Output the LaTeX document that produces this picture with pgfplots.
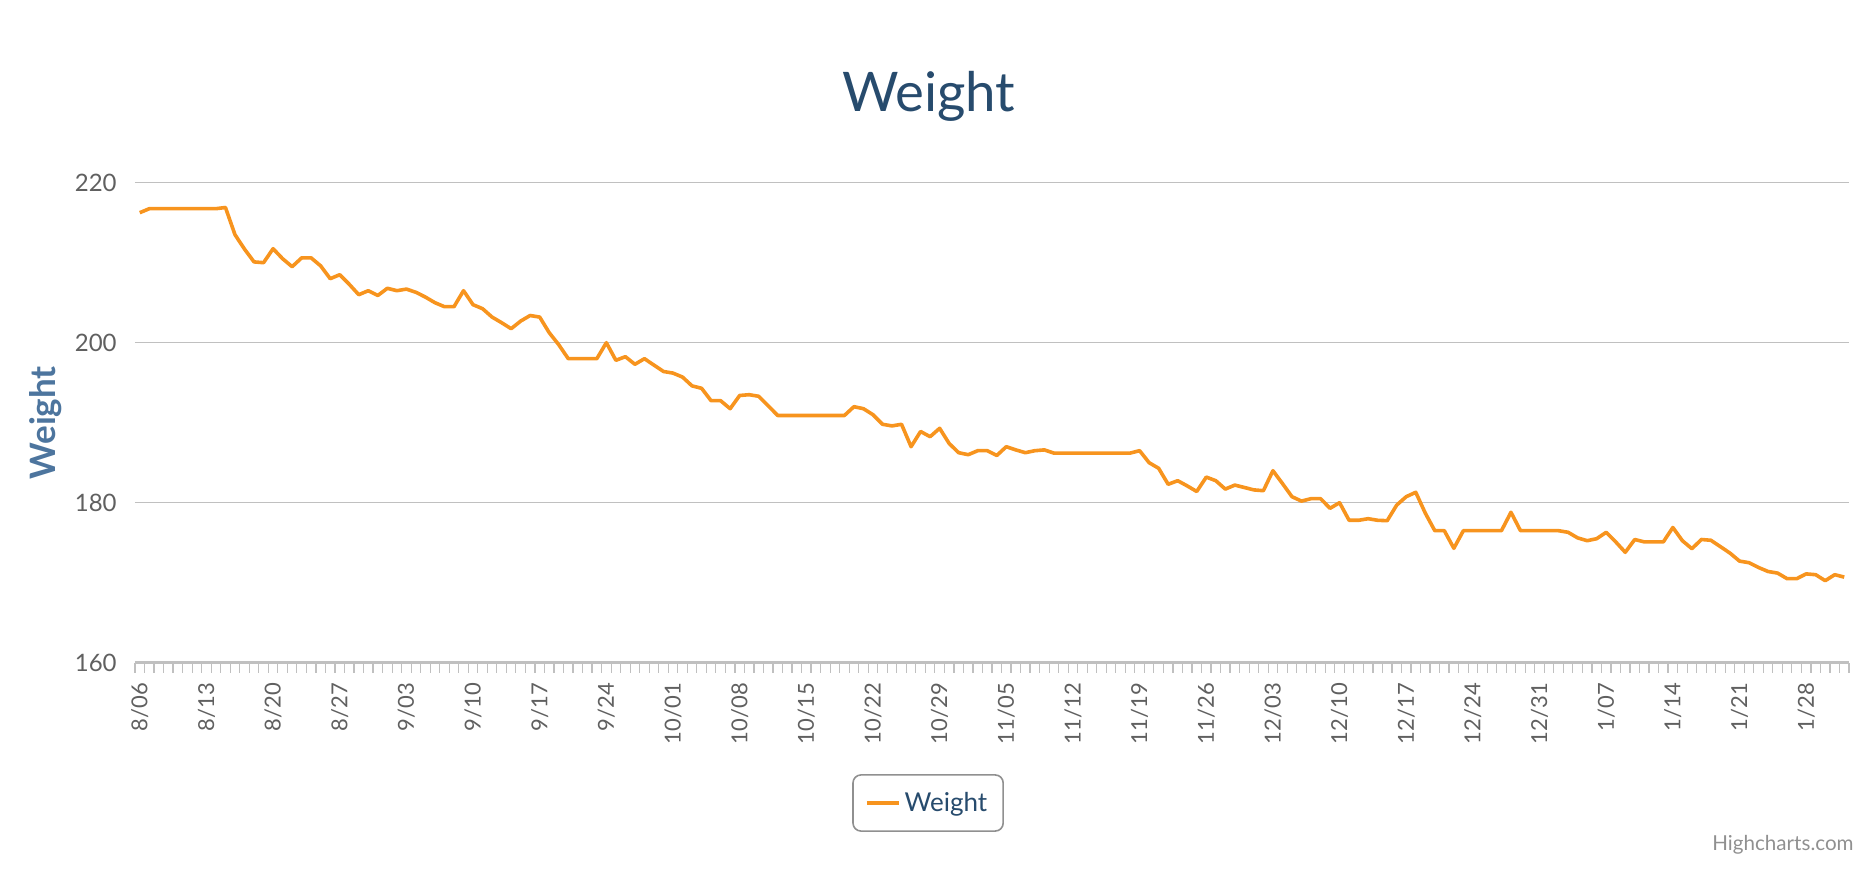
\documentclass[border=0pt]{standalone}
\usepackage{fontspec}
\setmainfont{Lato}
\usepackage{pgfplots}
\pgfplotsset{compat=1.18}
\usepackage{pgfplotstable}

\definecolor{titleblue}{HTML}{274B6D}
\definecolor{labelblue}{HTML}{4D759E}
\definecolor{ticktext}{HTML}{606060}
\definecolor{gridgray}{HTML}{C0C0C0}
\definecolor{legendgray}{HTML}{909090}
\definecolor{lineorange}{HTML}{F7941E}

% day index (0 = 8/06), weight
\pgfplotstableread{
day weight
0 216.25
1 216.75
2 216.75
3 216.75
4 216.75
5 216.75
6 216.75
7 216.75
8 216.75
9 216.9
10 213.5
11 211.7
12 210.1
13 210.0
14 211.75
15 210.5
16 209.5
17 210.6
18 210.6
19 209.6
20 208.0
21 208.5
22 207.3
23 206.0
24 206.5
25 205.9
26 206.8
27 206.5
28 206.7
29 206.3
30 205.7
31 205.0
32 204.5
33 204.5
34 206.5
35 204.75
36 204.25
37 203.2
38 202.5
39 201.75
40 202.7
41 203.4
42 203.2
43 201.25
44 199.75
45 198.0
46 198.0
47 198.0
48 198.0
49 200.0
50 197.8
51 198.25
52 197.3
53 198.0
54 197.2
55 196.4
56 196.2
57 195.7
58 194.6
59 194.3
60 192.75
61 192.75
62 191.75
63 193.4
64 193.5
65 193.3
66 192.1
67 190.9
68 190.9
69 190.9
70 190.9
71 190.9
72 190.9
73 190.9
74 190.9
75 192.0
76 191.75
77 191.0
78 189.8
79 189.6
80 189.8
81 187.0
82 188.9
83 188.25
84 189.3
85 187.4
86 186.25
87 186.0
88 186.5
89 186.5
90 185.9
91 187.0
92 186.6
93 186.25
94 186.5
95 186.6
96 186.2
97 186.2
98 186.2
99 186.2
100 186.2
101 186.2
102 186.2
103 186.2
104 186.2
105 186.5
106 185.0
107 184.3
108 182.3
109 182.75
110 182.1
111 181.4
112 183.2
113 182.75
114 181.7
115 182.2
116 181.9
117 181.6
118 181.5
119 184.0
120 182.4
121 180.75
122 180.2
123 180.5
124 180.5
125 179.3
126 180.0
127 177.8
128 177.8
129 178.0
130 177.8
131 177.75
132 179.7
133 180.75
134 181.3
135 178.7
136 176.5
137 176.5
138 174.3
139 176.5
140 176.5
141 176.5
142 176.5
143 176.5
144 178.8
145 176.5
146 176.5
147 176.5
148 176.5
149 176.5
150 176.3
151 175.6
152 175.25
153 175.5
154 176.3
155 175.1
156 173.8
157 175.4
158 175.1
159 175.1
160 175.1
161 176.9
162 175.25
163 174.25
164 175.4
165 175.3
166 174.5
167 173.7
168 172.7
169 172.5
170 171.9
171 171.4
172 171.2
173 170.5
174 170.5
175 171.1
176 171.0
177 170.25
178 171.0
179 170.7
}\weighttable

\begin{document}
\begin{tikzpicture}
  \path[use as bounding box] (-67.5pt,-103.65pt) rectangle (869pt,331.35pt);
  \begin{axis}[
      scale only axis,
      width=857pt,
      height=240pt,
      xmin=-0.5, xmax=179.5,
      ymin=160, ymax=220,
      axis x line*=bottom,
      axis y line*=left,
      x axis line style={-, draw=gridgray, line width=1.2pt},
      y axis line style={draw=none},
      ytick={160,180,200,220},
      ymajorgrids,
      major grid style={draw=gridgray, line width=0.65pt},
      xtick={0,7,...,175},
      xticklabels={8/06,8/13,8/20,8/27,9/03,9/10,9/17,9/24,10/01,10/08,10/15,10/22,10/29,11/05,11/12,11/19,11/26,12/03,12/10,12/17,12/24,12/31,1/07,1/14,1/21,1/28},
      minor xtick={-0.5,0.5,...,179.5},
      tick align=outside,
      major tick length=0pt,
      minor tick length=5pt,
      minor tick style={draw=gridgray, line width=0.6pt},
      y tick style={draw=none},
      /pgf/number format/assume math mode=true,
      yticklabel style={xshift=-9pt, anchor=east, inner sep=0pt, text=ticktext, font=\fontsize{12}{14}\selectfont},
      xticklabel style={yshift=-10pt, rotate=90, anchor=east, inner sep=0pt, text=ticktext, font=\fontsize{11}{13}\selectfont},
      ylabel={\textbf{Weight}},
      ylabel style={at={(axis description cs:-0.0519,0.5)}, anchor=center, text=labelblue, font=\fontsize{17.5}{20}\selectfont},
      title={Weight},
      title style={at={(axis description cs:0.4631,1.123)}, anchor=base, text=titleblue, font=\fontsize{27.3}{31}\selectfont},
      legend style={at={(0.4627,-0.2923)}, anchor=center, draw=legendgray, line width=0.8pt, rounded corners=4pt, inner xsep=6pt, inner ysep=6.5pt, text=titleblue, font=\fontsize{13}{15}\selectfont},
      legend image code/.code={\draw[#1, line width=1.8pt] (0pt,0pt) -- (16pt,0pt);},
    ]
    \addplot[draw=lineorange, line width=1.8pt, line join=round, no markers] table[x=day, y=weight] {\weighttable};
    \addlegendentry{Weight}
  \end{axis}
  \node[anchor=base east, text=legendgray, font=\fontsize{10.3}{12}\selectfont, inner sep=0pt] at (859.5pt,-94.15pt) {Highcharts.com};
\end{tikzpicture}
\end{document}
